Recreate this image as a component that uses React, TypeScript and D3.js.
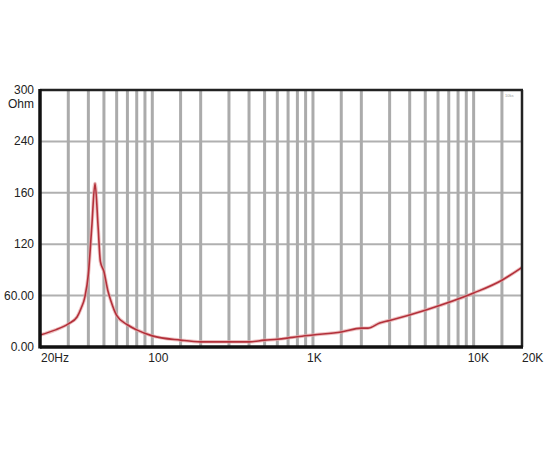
import React from "react";
import * as d3 from "d3";

const freqs = [20, 25, 30, 34, 36, 38, 40, 42, 44, 46, 47.5, 50, 53, 55, 60, 70, 80, 100, 150, 200, 300, 400, 500, 600, 700, 800, 1000, 1500, 2000, 2200, 2600, 3000, 5000, 10000, 15000, 20000];
const ohms = [14, 20, 27, 35, 45, 58, 85, 140, 191, 140, 100, 88, 65, 55, 37, 26, 20, 13, 8, 6, 6, 6, 8, 9, 10.5, 12, 14, 17.5, 22, 22, 28, 31, 43, 63, 78, 93];

const yTickValues = [0, 60, 120, 180, 240, 300];
const yTickLabels = ["0.00", "60.00", "120", "160", "240", "300"];
const xGridFreqs = [30, 40, 50, 60, 70, 80, 90, 100, 150, 200, 300, 400, 500, 600, 700, 800, 900, 1000, 1500, 2000, 3000, 4000, 5000, 6000, 7000, 8000, 9000, 10000, 15000];
const xLabelFreqs = [20, 100, 1000, 10000, 20000];
const xLabelTexts = ["20Hz", "100", "1K", "10K", "20K"];
const xLabelOffsets = [1, -4, -6, -6, 0];

export default function App() {
  const W = 550, H = 450;
  const left = 40, right = 522, top = 90, bottom = 347;
  const x = d3.scaleLog().domain([20, 20000]).range([left, right]);
  const y = d3.scaleLinear().domain([0, 300]).range([bottom, top]);
  const line = d3.line<number>()
    .x((_, i) => x(freqs[i]))
    .y((d) => y(d))
    .curve(d3.curveMonotoneX);
  const path = line(ohms) || "";
  const font = "'Liberation Sans', Arial, sans-serif";
  return (
    <svg width={W} height={H} style={{ position: "absolute", left: 0, top: 0, background: "#fff" }}>
      <rect x={0} y={0} width={W} height={H} fill="#fff" />
      {yTickValues.slice(1, 5).map((v) => (
        <line key={"h" + v} x1={left} x2={right} y1={y(v)} y2={y(v)} stroke="#b0b0b0" strokeWidth={2} />
      ))}
      {xGridFreqs.map((f) => (
        <line key={"v" + f} x1={x(f)} x2={x(f)} y1={top} y2={bottom} stroke="#ababab" strokeWidth={3} />
      ))}
      <path d={path} fill="none" stroke="#e6a6a8" strokeWidth={3.5} strokeOpacity={0.7} />
      <path d={path} fill="none" stroke="#b3303a" strokeWidth={1.6} />
      <text x={505} y={97} fontSize={4} fill="#999" fontFamily={font}>10ks</text>
      <line x1={left} x2={right + 1} y1={top} y2={top} stroke="#222" strokeWidth={2.5} />
      <line x1={right} x2={right} y1={top} y2={bottom} stroke="#222" strokeWidth={2.5} />
      <line x1={left} x2={right + 1} y1={bottom} y2={bottom} stroke="#111" strokeWidth={3.5} />
      <line x1={left} x2={left} y1={top - 1} y2={bottom + 1.5} stroke="#111" strokeWidth={3.5} />
      {yTickValues.map((v, i) => (
        <text key={"yl" + v} x={34} y={y(v) + 4} textAnchor="end" fontSize={12} fill="#222" fontFamily={font}>
          {yTickLabels[i]}
        </text>
      ))}
      <text x={34} y={108} textAnchor="end" fontSize={12} fill="#222" fontFamily={font}>Ohm</text>
      {xLabelFreqs.map((f, i) => (
        <text key={"xl" + f} x={x(f) + xLabelOffsets[i]} y={362} fontSize={12} fill="#222" fontFamily={font}>
          {xLabelTexts[i]}
        </text>
      ))}
    </svg>
  );
}
